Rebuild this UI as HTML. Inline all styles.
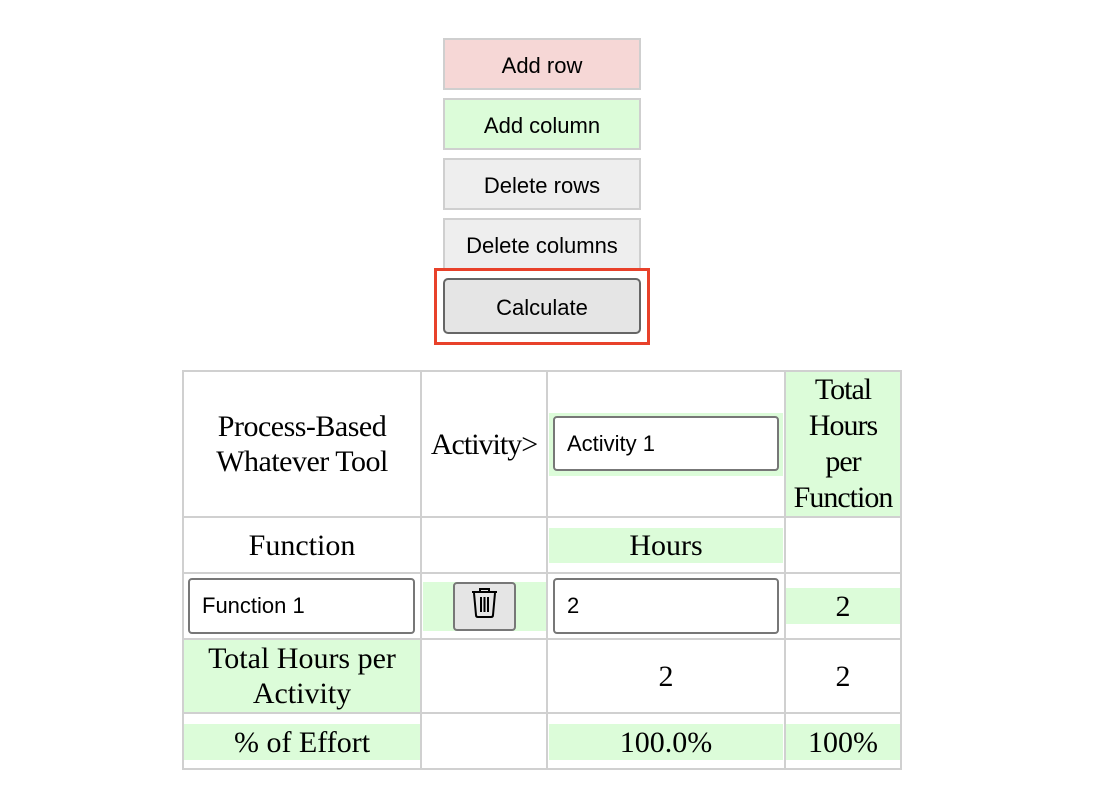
<!DOCTYPE html>
<html><head><style>
body{margin:0;width:1110px;height:810px;background:#fff;position:relative;overflow:hidden;font-family:"Liberation Serif",serif;}
.a{position:absolute;box-sizing:border-box;}
.btn{position:absolute;box-sizing:border-box;left:443px;width:198px;height:52px;border:2px solid #cfcfcf;font-family:"Liberation Sans",sans-serif;font-size:22px;display:flex;align-items:center;justify-content:center;color:#000;padding-top:3px;}
.g{position:absolute;background:#dcfcd9;}
.t{position:absolute;font-size:30px;text-align:center;display:flex;align-items:center;justify-content:center;line-height:35px;white-space:nowrap;}
.in{position:absolute;box-sizing:border-box;background:#fff;border:2px solid #777;border-radius:4px;font-family:"Liberation Sans",sans-serif;font-size:22px;display:flex;align-items:center;padding-left:12px;}
.h{position:absolute;height:2px;background:#d0d0d0;left:182px;width:720px;}
.v{position:absolute;width:2px;background:#d0d0d0;top:370px;height:400px;}
</style></head><body>
<div class="btn" style="top:38px;background:#f6d7d6">Add row</div>
<div class="btn" style="top:98px;background:#dcfcd9">Add column</div>
<div class="btn" style="top:158px;background:#eeeeee">Delete rows</div>
<div class="btn" style="top:218px;background:#eeeeee">Delete columns</div>
<div class="a" style="left:434px;top:268px;width:216px;height:77px;border:3px solid #e8412a"></div>
<div class="btn" style="top:278px;height:56px;background:#e5e5e5;border:2px solid #666;border-radius:5px">Calculate</div>

<div class="g" style="left:549px;top:413px;width:234px;height:63px"></div>
<div class="g" style="left:786px;top:372px;width:114px;height:144px"></div>
<div class="g" style="left:549px;top:528px;width:234px;height:35px"></div>
<div class="g" style="left:423px;top:582px;width:123px;height:49px"></div>
<div class="g" style="left:786px;top:588px;width:114px;height:36px"></div>
<div class="g" style="left:184px;top:640px;width:236px;height:72px"></div>
<div class="g" style="left:184px;top:724px;width:236px;height:36px"></div>
<div class="g" style="left:549px;top:724px;width:234px;height:36px"></div>
<div class="g" style="left:786px;top:724px;width:114px;height:36px"></div>

<div class="h" style="top:370px"></div><div class="h" style="top:516px"></div><div class="h" style="top:572px"></div><div class="h" style="top:638px"></div><div class="h" style="top:712px"></div><div class="h" style="top:768px"></div>
<div class="v" style="left:182px"></div><div class="v" style="left:420px"></div><div class="v" style="left:546px"></div><div class="v" style="left:784px"></div><div class="v" style="left:900px"></div>

<div class="t" style="left:184px;top:372px;width:236px;height:144px;letter-spacing:-0.5px">Process-Based<br>Whatever Tool</div>
<div class="t" style="left:420px;top:372px;width:128px;height:144px;letter-spacing:-1px">Activity&gt;</div>
<div class="in" style="left:553px;top:416px;width:226px;height:55px">Activity 1</div>
<div class="t" style="left:786px;top:372px;width:114px;height:144px;line-height:36px;letter-spacing:-1px">Total<br>Hours<br>per<br>Function</div>
<div class="t" style="left:184px;top:518px;width:236px;height:54px">Function</div>
<div class="t" style="left:549px;top:518px;width:234px;height:54px">Hours</div>
<div class="in" style="left:188px;top:578px;width:227px;height:56px">Function 1</div>
<div class="a" style="left:453px;top:582px;width:63px;height:49px;background:#e5e5e5;border:2px solid #777;border-radius:4px">
<svg width="59" height="45" viewBox="0 0 59 45"><g fill="none" stroke="#000" stroke-width="2"><path d="M17 8h25M25 8v-3h9v3"/><path d="M19 9l2 22q0 2 2 2h13q2 0 2-2l2-22"/><path d="M26 13v15M29.5 13v15M33 13v15"/></g></svg></div>
<div class="in" style="left:553px;top:578px;width:226px;height:56px">2</div>
<div class="t" style="left:786px;top:574px;width:114px;height:64px">2</div>
<div class="t" style="left:184px;top:640px;width:236px;height:72px;line-height:35px">Total Hours per<br>Activity</div>
<div class="t" style="left:549px;top:640px;width:234px;height:72px">2</div>
<div class="t" style="left:786px;top:640px;width:114px;height:72px">2</div>
<div class="t" style="left:184px;top:724px;width:236px;height:36px">% of Effort</div>
<div class="t" style="left:549px;top:724px;width:234px;height:36px">100.0%</div>
<div class="t" style="left:786px;top:724px;width:114px;height:36px">100%</div>
</body></html>
